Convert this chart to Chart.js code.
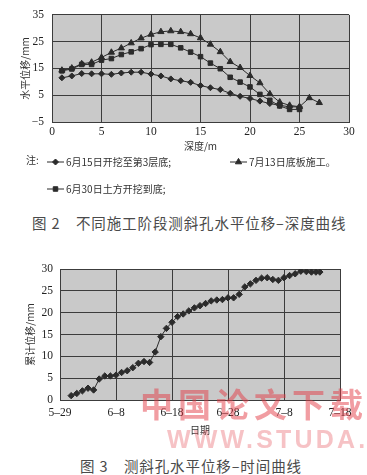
<!doctype html>
<html lang="zh-CN">
<head>
<meta charset="utf-8">
<title>测斜孔水平位移</title>
<script src="https://cdn.jsdelivr.net/npm/chart.js"></script>
<style>
    body { margin: 0; width: 367px; height: 475px; background: #fff; position: relative; overflow: hidden;
           font-family: "Noto Sans CJK SC", sans-serif; }
    #depthChart { position: absolute; left: 0; top: 0; }
    #timeChart { position: absolute; left: 0; top: 255px; }
    .caption { position: absolute; white-space: nowrap; color: #4a4a4a; font-size: 14.5px; letter-spacing: 0.9px; }
    .wm { position: absolute; white-space: nowrap; font-weight: bold; }
</style>
</head>
<body>

<canvas id="depthChart" width="367" height="205"></canvas>
<div class="caption" style="left:32px; top:212px;">图 2　不同施工阶段测斜孔水平位移–深度曲线</div>

<canvas id="timeChart" width="367" height="190"></canvas>
<div class="caption" style="left:80px; top:455px;">图 3　测斜孔水平位移–时间曲线</div>

<div class="wm" style="left:140px; top:379px; font-size:33px; letter-spacing:5px; color:rgba(228,60,70,0.5); font-family:'Noto Sans CJK SC';">中国论文下载</div>
<div class="wm" style="left:167px; top:425px; font-size:25px; letter-spacing:3.2px; color:rgba(230,80,90,0.35); font-family:'Liberation Sans';">WWW.STUDA.COM</div>

<script>
// ---- 图2 数据: 深度 (m) 与 水平位移 (mm)
const depths = [1, 2, 3, 4, 5, 6, 7, 8, 9, 10, 11, 12, 13, 14, 15, 16, 17, 18, 19, 20, 21, 22, 23, 24, 25, 26, 27];
const disp0615 = [11.5, 12.2, 13.1, 13.0, 13.0, 12.8, 13.3, 13.6, 13.6, 12.9, 12.2, 11.1, 10.4, 9.8, 8.6, 7.8, 7.1, 5.7, 4.6, 3.8, 2.8, 1.9, 1.2, 0.7, 0.6];
const disp0630 = [14.1, 14.8, 16.5, 16.5, 18.1, 18.7, 20.2, 21.2, 22.4, 23.9, 24.0, 24.0, 22.7, 21.1, 19.4, 17.0, 14.9, 11.7, 9.9, 8.1, 5.3, 3.1, 1.0, -0.3, -0.3];
const disp0713 = [14.3, 15.1, 16.7, 17.3, 19.1, 21.0, 22.6, 24.5, 26.3, 27.7, 28.7, 29.0, 28.7, 27.9, 26.4, 24.0, 21.2, 17.5, 15.3, 12.3, 9.6, 5.5, 2.4, 1.2, 0.7, 4.0, 2.2];
const depthTicks = [0, 5, 10, 15, 20, 25, 30];

// ---- 图3 数据: 自5月29日起的天数 与 累计位移 (mm)
const days = [2, 3, 4, 5, 6, 7, 8, 9, 10, 11, 12, 13, 14, 15, 16, 17,
              18, 19, 20, 21, 22, 23, 24, 25, 26, 27, 28, 29, 30, 31, 32,
              33, 34, 35, 36, 37, 38, 39, 40, 41, 42, 43, 44, 44.9, 45.7, 46.4];
const cumDisp = [1.0, 1.5, 2.1, 2.7, 2.3, 4.8, 5.5, 5.5, 5.7, 6.3, 6.7, 7.4, 8.4, 8.8, 8.6, 11.0,
                 14.5, 16.4, 17.8, 19.1, 19.7, 20.4, 21.1, 21.6, 22.1, 22.7, 22.9, 23.0, 23.4, 23.4, 24.2,
                 25.9, 26.6, 27.4, 27.9, 28.0, 27.6, 27.4, 28.0, 28.5, 28.9, 29.5, 29.4, 29.3, 29.3, 29.3];
const dateTicks = ['5–29', '6–8', '6–18', '6–28', '7–8', '7–18'];

const INK = '#2b2b2b';
const GRID = '#3c3c3c';
const tickFont = { family: '"Liberation Serif", "Times New Roman", serif', size: 11.5 };
const titleFont = { family: '"Noto Sans CJK SC"', size: 10 };

function pts(xs, ys) {
    return ys.map((y, i) => ({ x: xs[i], y: y }));
}

// 灰色绘图区背景
const plotBg = {
    id: 'plotBg',
    beforeDraw(chart) {
        const a = chart.chartArea, ctx = chart.ctx;
        ctx.save();
        ctx.fillStyle = '#c9c9c9';
        ctx.fillRect(a.left, a.top, a.right - a.left, a.bottom - a.top);
        ctx.restore();
    }
};

// 图2 下方的 "注:" 图例
const noteLegend = {
    id: 'noteLegend',
    afterDraw(chart) {
        const ctx = chart.ctx;
        const spots = [[47, 162], [47, 189], [230, 162]];
        ctx.save();
        ctx.fillStyle = '#333';
        ctx.font = '10px "Noto Sans CJK SC"';
        ctx.textBaseline = 'middle';
        ctx.fillText('注:', 26, 160);
        chart.data.datasets.forEach((ds, i) => {
            const [x, y] = spots[i];
            ctx.strokeStyle = INK;
            ctx.lineWidth = 1;
            ctx.beginPath();
            ctx.moveTo(x, y);
            ctx.lineTo(x + 17, y);
            ctx.stroke();
            ctx.fillStyle = INK;
            Chart.helpers.drawPoint(ctx, {
                pointStyle: ds.pointStyle, radius: ds.pointRadius,
                borderWidth: 1, rotation: 0
            }, x + 8.5, y);
            ctx.fillStyle = '#333';
            ctx.fillText(ds.label, x + 19, y);
        });
        ctx.restore();
    }
};

function lineSet(label, data, style, r) {
    return {
        label: label, data: data,
        borderColor: INK, backgroundColor: INK, borderWidth: 1,
        pointStyle: style, pointRadius: r, pointBorderWidth: 1,
        pointBackgroundColor: INK, pointBorderColor: INK,
        tension: 0, fill: false
    };
}

new Chart(document.getElementById('depthChart').getContext('2d'), {
    type: 'line',
    data: {
        datasets: [
            lineSet('6月15日开挖至第3层底;', pts(depths, disp0615), 'rectRot', 3),
            lineSet('6月30日土方开挖到底;', pts(depths, disp0630), 'rect', 3.2),
            lineSet('7月13日底板施工。', pts(depths, disp0713), 'triangle', 3.6)
        ]
    },
    options: {
        responsive: false,
        animation: false,
        layout: { padding: { top: 13, right: 18, bottom: 53, left: 0 } },
        plugins: { legend: { display: false }, tooltip: { enabled: false } },
        scales: {
            x: {
                type: 'linear', min: 0, max: 30,
                afterBuildTicks: s => { s.ticks = depthTicks.map(v => ({ value: v })); },
                afterFit: s => { s.height = 30; },
                ticks: { font: tickFont, color: '#222', padding: 3, maxRotation: 0 },
                grid: { color: GRID, lineWidth: 1, drawTicks: false },
                border: { color: GRID },
                title: { display: true, text: '深度/m', font: titleFont, color: '#333', padding: { top: 0, bottom: 0 } }
            },
            y: {
                min: -5, max: 35,
                afterFit: s => { s.width = 52; },
                ticks: { stepSize: 5, font: tickFont, color: '#222', padding: 8,
                         callback: v => v < 0 ? '−' + Math.abs(v) : v },
                grid: { color: GRID, lineWidth: 1, drawTicks: false },
                border: { color: GRID },
                title: { display: true, text: '水平位移/mm', font: titleFont, color: '#333', padding: { top: 19, bottom: 0 } }
            }
        }
    },
    plugins: [plotBg, noteLegend]
});

new Chart(document.getElementById('timeChart').getContext('2d'), {
    type: 'line',
    data: {
        datasets: [{
            label: '累计位移',
            data: pts(days, cumDisp),
            borderColor: INK, backgroundColor: INK, borderWidth: 1,
            pointStyle: 'rectRot', pointRadius: 3.2,
            pointBackgroundColor: INK, pointBorderColor: INK,
            tension: 0, fill: false
        }]
    },
    options: {
        responsive: false,
        animation: false,
        layout: { padding: { top: 14, right: 27, bottom: 9, left: 0 } },
        plugins: { legend: { display: false }, tooltip: { enabled: false } },
        scales: {
            x: {
                type: 'linear', min: 0, max: 50,
                afterBuildTicks: s => { s.ticks = dateTicks.map((t, i) => ({ value: i * 10 })); },
                afterFit: s => { s.height = 36; },
                ticks: { font: tickFont, color: '#222', padding: 6, maxRotation: 0,
                         callback: (v, i) => dateTicks[i] },
                grid: { color: GRID, lineWidth: 1, drawTicks: false },
                border: { color: GRID },
                title: { display: true, text: '日期', font: titleFont, color: '#333', padding: { top: 0, bottom: 0 } }
            },
            y: {
                min: 0, max: 30,
                afterFit: s => { s.width = 60; },
                ticks: { stepSize: 5, font: tickFont, color: '#222', padding: 7 },
                grid: { color: GRID, lineWidth: 1, drawTicks: false },
                border: { color: GRID },
                title: { display: true, text: '累计位移/mm', font: titleFont, color: '#333', padding: { top: 24, bottom: 0 } }
            }
        }
    },
    plugins: [plotBg]
});
</script>
</body>
</html>
